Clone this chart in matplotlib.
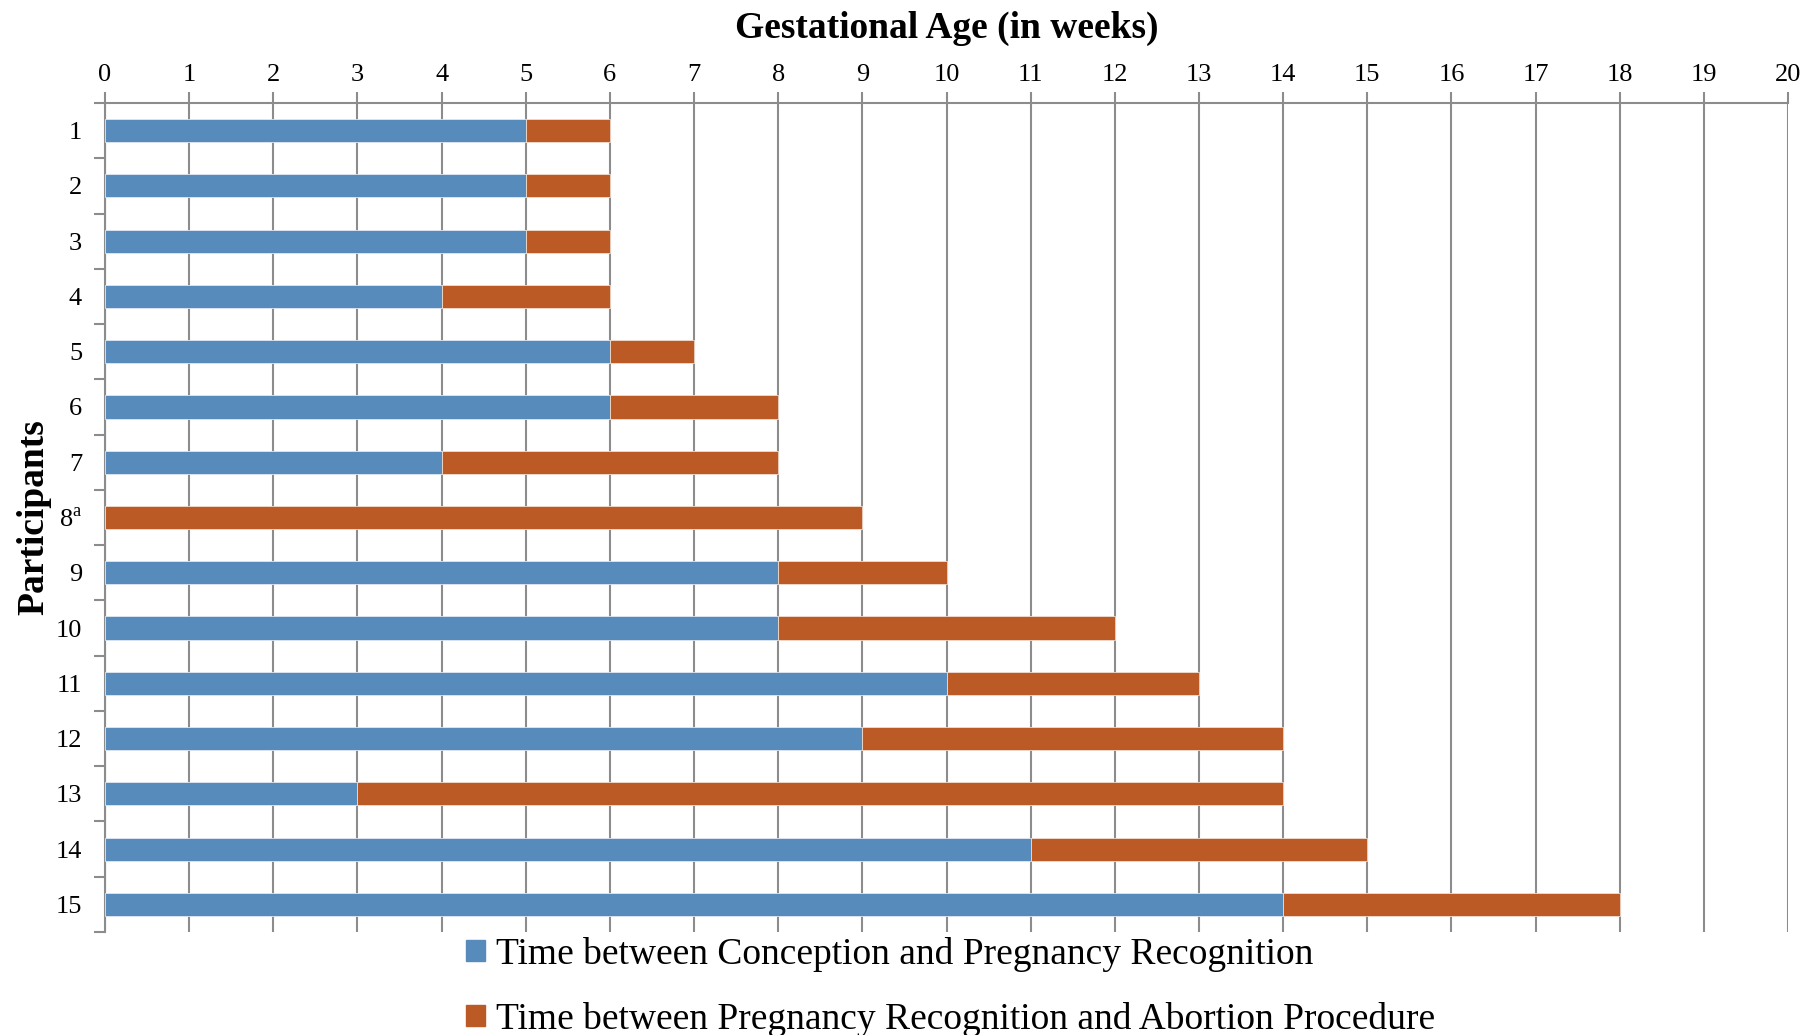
import matplotlib
matplotlib.use("Agg")
import matplotlib.pyplot as plt
from matplotlib.patches import Patch

plt.rcParams['font.family'] = ['Liberation Serif', 'DejaVu Serif']
plt.rcParams['mathtext.fontset'] = 'custom'
plt.rcParams['mathtext.rm'] = 'Liberation Serif'

# participants and weeks
participants = ['1', '2', '3', '4', '5', '6', '7', r'8$^{\mathrm{a}}$', '9', '10',
                '11', '12', '13', '14', '15']
conception_to_recognition = [5, 5, 5, 4, 6, 6, 4, 0, 8, 8, 10, 9, 3, 11, 14]
recognition_to_abortion = [1, 1, 1, 2, 1, 2, 4, 9, 2, 4, 3, 5, 11, 4, 4]
weeks = list(range(0, 21))

blue = '#568bbb'
orange = '#bb5a25'
gray = '#8c8c8c'

fig = plt.figure(figsize=(18.19, 10.35), dpi=100)
ax = fig.add_axes([0.0577, 0.0995, 0.9253, 0.801])

pos = list(range(len(participants)))
ax.barh(pos, conception_to_recognition, height=0.42, color=blue,
        edgecolor='#dfe9f3', linewidth=0.6, zorder=3)
ax.barh(pos, recognition_to_abortion, left=conception_to_recognition, height=0.42,
        color=orange, edgecolor='#f1dccf', linewidth=0.6, zorder=3)

ax.set_xlim(0, 20)
ax.set_ylim(len(participants) - 0.5, -0.5)

# x axis on top
ax.xaxis.tick_top()
ax.xaxis.set_label_position('top')
ax.set_xticks(weeks)
ax.tick_params(axis='x', length=8, width=1.5, color=gray, labelsize=19, pad=4)
ax.set_xlabel('Gestational Age (in weeks)', fontsize=27, fontweight='bold', labelpad=19)
ax.grid(axis='x', color=gray, linewidth=1.5, zorder=0)

# y axis: labels at centers, ticks between categories
ax.set_yticks(pos)
ax.set_yticklabels(participants)
ax.set_yticks([p - 0.5 for p in pos] + [len(pos) - 0.5], minor=True)
ax.tick_params(axis='y', which='major', length=0, labelsize=19, pad=16.5)
ax.tick_params(axis='y', which='minor', length=8, width=1.5, color=gray)
ax.set_ylabel('Participants', fontsize=27, fontweight='bold', labelpad=3)

for side in ['right', 'bottom']:
    ax.spines[side].set_visible(False)
for side in ['top', 'left']:
    ax.spines[side].set_color(gray)
    ax.spines[side].set_linewidth(1.5)

handles = [Patch(color=blue, label='Time between Conception and Pregnancy Recognition'),
           Patch(color=orange, label='Time between Pregnancy Recognition and Abortion Procedure')]
fig.legend(handles=handles, loc='upper left', bbox_to_anchor=(0.246, 0.113),
           frameon=False, fontsize=27, handlelength=0.5, handleheight=0.5,
           handletextpad=0.3, labelspacing=0.8, borderpad=0)

fig.savefig('out.png', dpi=100)
